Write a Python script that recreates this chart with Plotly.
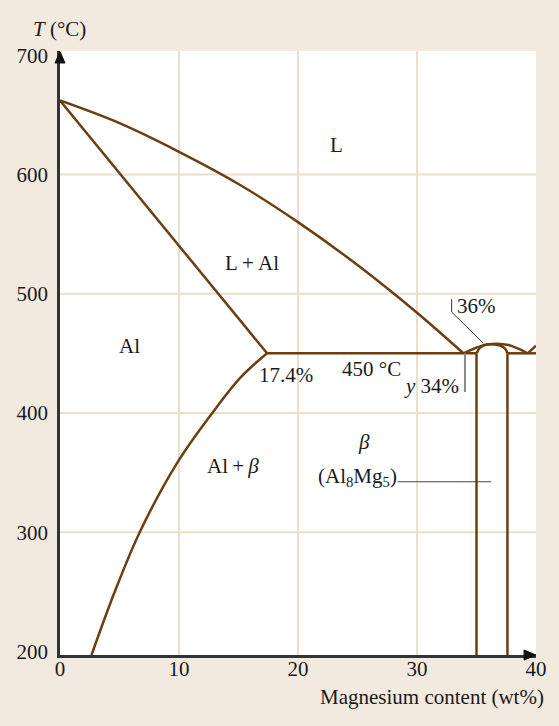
import plotly.graph_objects as go

# Al-Mg phase diagram (Al-rich side)
T_MIN, T_MAX = 197, 703.5
X_MIN, X_MAX = 0, 40

# liquidus, Al side (wt% Mg, °C)
liq_x = [0, 5, 10, 15, 20, 25, 30, 33.9]
liq_T = [662, 643, 619, 592, 560, 524, 484, 450]

# solidus of Al solid solution (straight)
sol_x = [0, 17.4]
sol_T = [662, 450]

# solvus of Al solid solution
solv_x = [17.4, 15.2, 12.8, 9.9, 6.7, 4.6, 2.65]
solv_T = [450, 430, 400, 359, 300, 250, 197]

# eutectic isotherms
eut_left_x = [17.4, 35.0]
eut_right_x = [37.6, 40.0]
eut_T = 450

# beta phase (Al8Mg5) boundaries
beta_left_x = 35.0
beta_right_x = 37.6

# liquidus over the beta dome
dome_x = [33.9, 34.6, 35.3, 36.0, 36.7, 37.7, 38.5, 39.3]
dome_T = [450, 453.1, 455.8, 457.5, 458.1, 456.9, 453.9, 450]

# beta solidus arch
arch_x = [35.0, 35.3, 35.7, 36.3, 37.0, 37.4, 37.6]
arch_T = [450, 454.7, 456.9, 457.5, 456.4, 453.9, 450]

# liquidus, Mg-rich side
liq_mg_x = [39.3, 40.0]
liq_mg_T = [450, 456.4]

# gridlines
grid_x = [10, 20, 30]
grid_T = [300, 400, 500, 600]

x_ticks = [0, 10, 20, 30, 40]
T_ticks = [200, 300, 400, 500, 600, 700]

LINE = "#6b3f10"
TEXT = "#1a1a1a"
FONT = "Liberation Serif"
FS = 21

# plot area size in pixels (used for arrowhead sizing in paper units)
W, H = 559, 726
ML, MR, MT, MB = 60, 21, 51, 71
PW, PH = W - ML - MR, H - MT - MB

fig = go.Figure()


def curve(x, y, shape="linear"):
    fig.add_trace(go.Scatter(x=x, y=y, mode="lines",
                             line=dict(color=LINE, width=2.5, shape=shape, smoothing=1.0),
                             hoverinfo="skip", showlegend=False))


curve(liq_x, liq_T, "spline")
curve(sol_x, sol_T)
curve(solv_x, solv_T, "spline")
curve(eut_left_x, [eut_T, eut_T])
curve(eut_right_x, [eut_T, eut_T])
curve([beta_left_x, beta_left_x], [T_MIN, eut_T])
curve([beta_right_x, beta_right_x], [T_MIN, eut_T])
curve(dome_x, dome_T, "spline")
curve(arch_x, arch_T, "spline")
curve(liq_mg_x, liq_mg_T)

shapes = []
for gx in grid_x:
    shapes.append(dict(type="line", xref="x", yref="y", x0=gx, x1=gx, y0=T_MIN, y1=T_MAX,
                       line=dict(color="#ecdecb", width=2), layer="below"))
for gt in grid_T:
    shapes.append(dict(type="line", xref="x", yref="y", x0=X_MIN, x1=X_MAX, y0=gt, y1=gt,
                       line=dict(color="#ecdecb", width=2), layer="below"))

# leader lines for labels
shapes.append(dict(type="path", xref="x", yref="y",
                   path="M 32.91,495.5 L 32.91,484.6 L 35.56,458.6",
                   line=dict(color="#333333", width=1)))
shapes.append(dict(type="line", xref="x", yref="y", x0=34.03, x1=34.03, y0=450, y1=417.5,
                   line=dict(color="#8a8a8a", width=2)))
shapes.append(dict(type="line", xref="x", yref="y", x0=28.37, x1=36.23, y0=342.3, y1=342.3,
                   line=dict(color="#444444", width=1.2)))

# axis arrowheads (paper units, sized in pixels)
px, py = 1.0 / PW, 1.0 / PH
head_len, head_half = 12, 5
shapes.append(dict(type="path", xref="paper", yref="paper",
                   path=(f"M {-head_half*px},{1 - head_len*py} L {head_half*px},{1 - head_len*py} "
                         f"L 0,{1 - 0.5*py} Z"),
                   fillcolor="#111111", line=dict(color="#111111", width=1)))
shapes.append(dict(type="path", xref="paper", yref="paper",
                   path=(f"M {1 - head_len*px},{-head_half*py} L {1 - head_len*px},{head_half*py} "
                         f"L 1,0 Z"),
                   fillcolor="#111111", line=dict(color="#111111", width=1)))


def label(x, y, text, xanchor="center", ref="x"):
    return dict(x=x, y=y, xref=ref if ref == "x" else "paper",
                yref="y" if ref == "x" else "paper",
                text=text, showarrow=False, xanchor=xanchor, yanchor="middle",
                font=dict(family=FONT, size=FS, color=TEXT))


annotations = [
    label(23.26, 624.7, "L"),
    label(16.15, 525.7, "L\u2009+\u2009Al"),
    label(5.82, 456.5, "Al"),
    label(19.0, 431.8, "17.4%"),
    label(26.17, 436.8, "450 °C"),
    label(33.72, 422.6, "<i>y</i> 34%", xanchor="right"),
    label(33.22, 489.7, "36%", xanchor="left"),
    label(25.52, 375.6, "<i>β</i>"),
    label(25.02, 346.3, "(Al<sub>8</sub>Mg<sub>5</sub>)"),
    label(14.52, 355.5, "Al\u2009+\u2009<i>β</i>"),
    label(-0.002, 1.0364, "<i>T</i> (°C)", ref="paper"),
    label(1.0209, -0.0695, "Magnesium content (wt%)", xanchor="right", ref="paper"),
]

fig.update_layout(
    width=W, height=H,
    margin=dict(l=ML, r=MR, t=MT, b=MB),
    paper_bgcolor="#f2eadf",
    plot_bgcolor="#ffffff",
    showlegend=False,
    hovermode=False,
    shapes=shapes,
    annotations=annotations,
    font=dict(family=FONT, size=FS, color=TEXT),
)
fig.update_xaxes(range=[X_MIN, X_MAX], tickvals=x_ticks, showgrid=False, zeroline=False,
                 showline=True, linecolor="#333333", linewidth=2.5,
                 ticks="", ticklabelstandoff=-7,
                 tickfont=dict(family=FONT, size=FS, color=TEXT))
fig.update_yaxes(range=[T_MIN, T_MAX], tickvals=T_ticks, showgrid=False, zeroline=False,
                 showline=True, linecolor="#333333", linewidth=2.5,
                 ticks="", ticklabelstandoff=5,
                 tickfont=dict(family=FONT, size=FS, color=TEXT))

fig.write_html("out.html")
